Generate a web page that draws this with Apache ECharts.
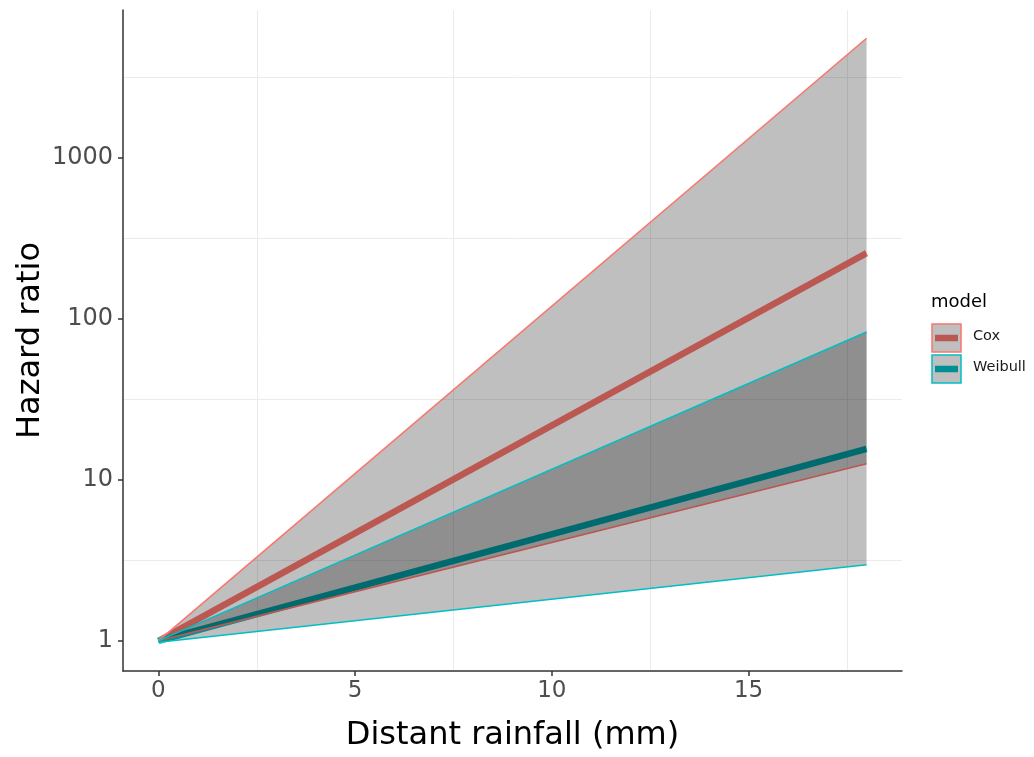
<!DOCTYPE html>
<html>
<head>
<meta charset="utf-8">
<script src="https://cdn.jsdelivr.net/npm/echarts@6.0.0/dist/echarts.min.js"></script>
<style>
    html, body { margin: 0; padding: 0; background: #fff; }
    #chartWrap { width: 1034px; height: 757px; }
</style>
</head>
<body>
<div id="chartWrap"></div>
<script>
// 数据：两端点（对数坐标下为直线）
var rainfall = [0, 18];
var coxMean = [1, 256];
var coxLower = [1, 12.6];
var coxUpper = [1, 5540];
var weibMean = [1, 15.6];
var weibLower = [0.98, 2.97];
var weibUpper = [1, 83];

var models = ['Cox', 'Weibull'];
var xTicks = [0, 5, 10, 15];
var yTicks = [1, 10, 100, 1000];
var xMinorGrid = [2.5, 7.5, 12.5, 17.5];
var yMinorGrid = [3.162, 31.62, 316.2, 3162];

var colors = ['#F8766D', '#00BFC4'];
var bandFill = 'rgba(0,0,0,0.25)';
var font = 'DejaVu Sans';

function pairs(ys) {
    return rainfall.map(function (x, i) { return [x, ys[i]]; });
}

// 置信带：用custom画多边形，坐标走axis的scale
function band(lower, upper, z) {
    return {
        type: 'custom',
        z: z,
        silent: true,
        data: [[rainfall[0], lower[0]]],
        renderItem: function (params, api) {
            var pts = [];
            for (var i = 0; i < rainfall.length; i++) {
                pts.push(api.coord([rainfall[i], upper[i]]));
            }
            for (var j = rainfall.length - 1; j >= 0; j--) {
                pts.push(api.coord([rainfall[j], lower[j]]));
            }
            return { type: 'polygon', shape: { points: pts }, style: { fill: bandFill } };
        }
    };
}

function edge(ys, color, z) {
    return {
        type: 'line', z: z, silent: true, showSymbol: false,
        data: pairs(ys),
        lineStyle: { color: color, width: 1.6 }
    };
}

function mean(ys, color) {
    return {
        type: 'line', z: 1, silent: true, showSymbol: false,
        data: pairs(ys),
        lineStyle: { color: color, width: 6.5 }
    };
}

// 次网格线，放在最底层
var gridLines = {
    type: 'line', z: 0, silent: true, data: [],
    markLine: {
        z: 0,
        silent: true,
        symbol: ['none', 'none'],
        label: { show: false },
        animation: false,
        lineStyle: { color: '#EBEBEB', width: 1, type: 'solid' },
        emphasis: { disabled: true },
        data: yMinorGrid.map(function (v) { return { yAxis: v }; })
            .concat(xMinorGrid.map(function (v) { return { xAxis: v }; }))
    }
};

// 图例（手动画，模仿ggplot的key）
var legendItems = [];
legendItems.push({
    type: 'text', left: 931, top: 293,
    style: { text: 'model', font: '18px "' + font + '"', fill: '#000' }
});
models.forEach(function (m, i) {
    var top = 324 + i * 31;
    legendItems.push({
        type: 'line', z: 100,
        shape: { x1: 935, y1: top + 14, x2: 958, y2: top + 14 },
        style: { stroke: colors[i], lineWidth: 6.5 }
    });
    legendItems.push({
        type: 'rect', z: 101,
        shape: { x: 932, y: top, width: 29, height: 28 },
        style: { fill: bandFill, stroke: colors[i], lineWidth: 1.5 }
    });
    legendItems.push({
        type: 'text', z: 101, left: 973, top: top + 5,
        style: { text: m, font: '14.5px "' + font + '"', fill: '#1a1a1a' }
    });
});

var option = {
    animation: false,
    backgroundColor: '#fff',
    textStyle: { fontFamily: font },
    grid: { left: 123, right: 132, top: 10, bottom: 86, containLabel: false, outerBoundsMode: 'none' },
    xAxis: {
        type: 'value', min: -0.9, max: 18.9,
        name: 'Distant rainfall (mm)', nameLocation: 'middle', nameGap: 49,
        nameTextStyle: { fontSize: 32, color: '#000', fontFamily: font },
        axisLine: { onZero: false, lineStyle: { color: '#333', width: 1.5 } },
        axisTick: { customValues: xTicks, length: 5, lineStyle: { color: '#333', width: 1.5 } },
        axisLabel: { customValues: xTicks, fontSize: 23, color: '#4D4D4D', margin: 9, fontFamily: font },
        splitLine: { show: false }
    },
    yAxis: {
        type: 'log', logBase: 10, min: 0.65, max: 8300,
        name: 'Hazard ratio', nameLocation: 'middle', nameGap: 76, nameMoveOverlap: false,
        nameTextStyle: { fontSize: 32, color: '#000', fontFamily: font },
        axisLine: { show: true, onZero: false, lineStyle: { color: '#333', width: 1.5 } },
        axisTick: { show: true, customValues: yTicks, length: 5, lineStyle: { color: '#333', width: 1.5 } },
        axisLabel: {
            customValues: yTicks, fontSize: 24, color: '#4D4D4D', margin: 10, fontFamily: font,
            formatter: function (v) { return String(Math.round(v)); }
        },
        splitLine: { show: false }
    },
    graphic: legendItems,
    series: [
        gridLines,
        mean(coxMean, colors[0]),
        mean(weibMean, colors[1]),
        band(coxLower, coxUpper, 2),
        edge(coxUpper, colors[0], 3),
        edge(coxLower, colors[0], 3),
        band(weibLower, weibUpper, 4),
        edge(weibUpper, colors[1], 5),
        edge(weibLower, colors[1], 5)
    ]
};

var myChart = echarts.init(document.getElementById('chartWrap'));
myChart.setOption(option);
</script>
</body>
</html>
